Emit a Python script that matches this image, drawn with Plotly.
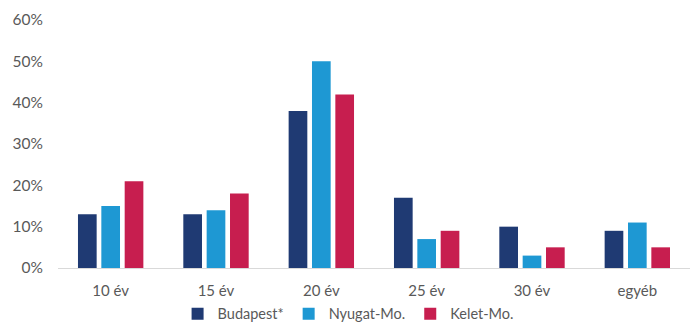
import plotly.graph_objects as go

categories = ["10 év", "15 év", "20 év", "25 év", "30 év", "egyéb"]
budapest = [13, 13, 38, 17, 10, 9]
nyugat = [15, 14, 50, 7, 3, 11]
kelet = [21, 18, 42, 9, 5, 5]

series = [
    ("Budapest*", budapest, "#1F3A73"),
    ("Nyugat-Mo.", nyugat, "#1E98D3"),
    ("Kelet-Mo.", kelet, "#C71E4F"),
]

fig = go.Figure()
for name, vals, color in series:
    fig.add_trace(go.Bar(
        x=categories,
        y=[v / 100 for v in vals],
        name=name,
        marker=dict(color=color, line=dict(width=0)),
    ))

fig.update_layout(
    width=690,
    height=324,
    margin=dict(l=58, r=0, t=20, b=56, autoexpand=False),
    paper_bgcolor="white",
    plot_bgcolor="white",
    barmode="group",
    bargap=0.335,
    bargroupgap=0.2,
    font=dict(family="Lato, Open Sans, sans-serif", size=15, color="#595959"),
    xaxis=dict(
        showline=True,
        linecolor="#D9D9D9",
        linewidth=1,
        ticks="",
        showgrid=False,
        ticklabelstandoff=9,
        tickfont=dict(size=15),
    ),
    yaxis=dict(
        range=[0, 0.6],
        dtick=0.1,
        tickformat=".0%",
        showgrid=False,
        zeroline=False,
        showline=False,
        ticks="",
        ticklabelstandoff=14,
        tickfont=dict(size=15.5),
    ),
    legend=dict(
        orientation="h",
        x=0.459,
        xanchor="center",
        y=-0.185,
        yanchor="middle",
        font=dict(size=14.5),
        itemwidth=30,
        traceorder="normal",
    ),
)

fig.write_html("out.html")
